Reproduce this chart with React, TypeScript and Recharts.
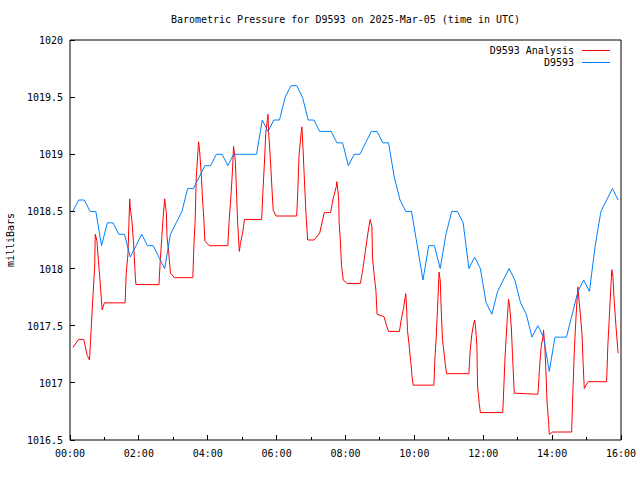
import { LineChart, Line, XAxis, YAxis, Legend } from "recharts";

// minutes after 00:00 UTC
const stationMinutes = [
  5, 15, 25, 35, 45, 55, 65, 75, 85, 95,
  105, 115, 125, 135, 145, 155, 165, 175, 185, 195,
  205, 215, 225, 235, 245, 255, 265, 275, 285, 295,
  305, 315, 325, 335, 345, 355, 365, 375, 385, 395,
  405, 415, 425, 435, 445, 455, 465, 475, 485, 495,
  505, 515, 525, 535, 545, 555, 565, 575, 585, 595,
  605, 615, 625, 635, 645, 655, 665, 675, 685, 695,
  705, 715, 725, 735, 745, 755, 765, 775, 785, 795,
  805, 815, 825, 835, 845, 855, 865, 875, 885, 895,
  905, 915, 925, 935, 945, 955,
];

const stationPressure = [
  1018.5, 1018.6, 1018.6, 1018.5, 1018.5, 1018.2, 1018.4, 1018.4, 1018.3, 1018.3,
  1018.1, 1018.2, 1018.3, 1018.2, 1018.2, 1018.1, 1018.0, 1018.3, 1018.4, 1018.5,
  1018.7, 1018.7, 1018.8, 1018.9, 1018.9, 1019.0, 1019.0, 1018.9, 1019.0, 1019.0,
  1019.0, 1019.0, 1019.0, 1019.3, 1019.2, 1019.3, 1019.3, 1019.5, 1019.6, 1019.6,
  1019.5, 1019.3, 1019.3, 1019.2, 1019.2, 1019.2, 1019.1, 1019.1, 1018.9, 1019.0,
  1019.0, 1019.1, 1019.2, 1019.2, 1019.1, 1019.1, 1018.8, 1018.6, 1018.5, 1018.5,
  1018.2, 1017.9, 1018.2, 1018.2, 1018.0, 1018.3, 1018.5, 1018.5, 1018.4, 1018.0,
  1018.1, 1018.0, 1017.7, 1017.6, 1017.8, 1017.9, 1018.0, 1017.9, 1017.7, 1017.6,
  1017.4, 1017.5, 1017.4, 1017.1, 1017.4, 1017.4, 1017.4, 1017.6, 1017.8, 1017.9,
  1017.8, 1018.2, 1018.5, 1018.6, 1018.7, 1018.6,
];

const analysisMinutes = [
  5, 15, 24, 30, 34, 39, 43, 44, 47, 52, 56, 60, 96, 98, 101, 104, 105, 108, 111, 114,
  115, 155, 157, 160, 162, 165, 168, 169, 172, 175, 182, 214, 216, 218, 220, 224, 226, 229, 231, 233,
  235, 243, 275, 277, 280, 283, 285, 288, 290, 292, 295, 297, 301, 304, 334, 336, 339, 341, 345, 346,
  349, 352, 354, 359, 395, 397, 399, 402, 404, 406, 408, 411, 414, 425, 435, 443, 454, 458, 464, 465,
  468, 469, 471, 473, 476, 483, 506, 510, 514, 519, 523, 526, 527, 530, 533, 535, 547, 551, 555, 574,
  577, 581, 584, 585, 586, 588, 591, 594, 596, 598, 634, 636, 638, 641, 643, 645, 647, 649, 654, 656,
  695, 697, 700, 703, 705, 707, 709, 710, 713, 715, 754, 756, 758, 761, 764, 766, 769, 771, 774, 815,
  816, 818, 821, 824, 825, 827, 830, 831, 834, 835, 841, 874, 876, 879, 882, 885, 886, 889, 892, 894,
  896, 899, 903, 935, 937, 940, 943, 944, 946, 948, 951, 954, 955,
];

const analysisPressure = [
  1017.31, 1017.38, 1017.38, 1017.24, 1017.2, 1017.67, 1018.02, 1018.3, 1018.24, 1017.91,
  1017.64, 1017.7, 1017.7, 1017.96, 1018.13, 1018.61, 1018.53, 1018.41, 1018.2, 1017.91,
  1017.86, 1017.86, 1018.05, 1018.28, 1018.43, 1018.61, 1018.48, 1018.28, 1018.14, 1017.96,
  1017.92, 1017.92, 1018.22, 1018.41, 1018.8, 1019.11, 1019.02, 1018.8, 1018.6, 1018.45,
  1018.24, 1018.2, 1018.2, 1018.4, 1018.6, 1018.85, 1019.07, 1018.95, 1018.69, 1018.41,
  1018.15, 1018.22, 1018.32, 1018.43, 1018.43, 1018.66, 1018.95, 1019.18, 1019.35, 1019.2,
  1018.97, 1018.69, 1018.51, 1018.46, 1018.46, 1018.69, 1018.99, 1019.15, 1019.24, 1019.05,
  1018.82, 1018.5, 1018.25, 1018.25, 1018.31, 1018.49, 1018.49, 1018.6, 1018.72, 1018.76,
  1018.62, 1018.4, 1018.25, 1018.03, 1017.9, 1017.87, 1017.87, 1017.99, 1018.13, 1018.31,
  1018.43, 1018.37, 1018.1, 1017.94, 1017.81, 1017.6, 1017.58, 1017.51, 1017.45, 1017.45,
  1017.55, 1017.65, 1017.75, 1017.78, 1017.71, 1017.46, 1017.32, 1017.17, 1017.05, 1016.98,
  1016.98, 1017.23, 1017.39, 1017.73, 1017.97, 1017.9, 1017.61, 1017.38, 1017.16, 1017.08,
  1017.08, 1017.27, 1017.42, 1017.51, 1017.55, 1017.46, 1017.32, 1016.98, 1016.82, 1016.74,
  1016.74, 1016.98, 1017.23, 1017.49, 1017.73, 1017.67, 1017.48, 1017.24, 1016.91, 1016.9,
  1016.95, 1017.13, 1017.32, 1017.4, 1017.46, 1017.35, 1017.01, 1016.84, 1016.65, 1016.55,
  1016.57, 1016.57, 1016.9, 1017.32, 1017.61, 1017.84, 1017.77, 1017.61, 1017.43, 1017.17,
  1016.95, 1016.98, 1017.01, 1017.01, 1017.32, 1017.61, 1017.9, 1017.99, 1017.93, 1017.73,
  1017.51, 1017.32, 1017.26,
];

const hourTicks = [0, 60, 120, 180, 240, 300, 360, 420, 480, 540, 600, 660, 720, 780, 840, 900, 960];
const hourLabels = ["00:00", "02:00", "04:00", "06:00", "08:00", "10:00", "12:00", "14:00", "16:00"];
const pressureTicks = [1016.5, 1017, 1017.5, 1018, 1018.5, 1019, 1019.5, 1020];
const legendOrder = ["D9593 Analysis", "D9593"];

const stationData = stationMinutes.map((t, i) => ({ t, p: stationPressure[i] }));
const analysisData = analysisMinutes.map((t, i) => ({ t, p: analysisPressure[i] }));

const FONT = "'DejaVu Sans Mono', monospace";

function BottomTick({ x, y, payload }: any) {
  const major = payload.value % 120 === 0;
  return (
    <g>
      <line x1={x} y1={y} x2={x} y2={y - (major ? 5 : 3)} stroke="#000" shapeRendering="crispEdges" />
      {major && (
        <text x={x} y={y + 17} textAnchor="middle" fill="#000" fontFamily={FONT} fontSize={10}>
          {hourLabels[payload.value / 120]}
        </text>
      )}
    </g>
  );
}

function TopTick({ x, y, payload }: any) {
  const major = payload.value % 120 === 0;
  return <line x1={x} y1={y} x2={x} y2={y + (major ? 5 : 3)} stroke="#000" shapeRendering="crispEdges" />;
}

function LeftTick({ x, y, payload }: any) {
  return (
    <g>
      <line x1={x} y1={y} x2={x + 5} y2={y} stroke="#000" shapeRendering="crispEdges" />
      <text x={x - 7} y={y + 4} textAnchor="end" fill="#000" fontFamily={FONT} fontSize={10}>
        {String(payload.value)}
      </text>
    </g>
  );
}

function RightTick({ x, y }: any) {
  return <line x1={x} y1={y} x2={x - 5} y2={y} stroke="#000" shapeRendering="crispEdges" />;
}

function LegendBox({ payload }: any) {
  const items = legendOrder
    .map((name) => (payload || []).find((p: any) => p.value === name))
    .filter(Boolean);
  return (
    <div style={{ width: 160, fontFamily: FONT, fontSize: 10, color: "#000" }}>
      {items.map((item: any) => (
        <div
          key={item.value}
          style={{ display: "flex", justifyContent: "flex-end", alignItems: "center", height: 12 }}
        >
          <span>{item.value}</span>
          <span style={{ display: "inline-block", width: 28, height: 1, marginLeft: 8, background: item.color }} />
        </div>
      ))}
    </div>
  );
}

export default function App() {
  return (
    <div style={{ position: "absolute", left: 0, top: 0, width: 640, height: 480, background: "#fff" }}>
      <LineChart
        width={640}
        height={480}
        margin={{ top: 39, right: 18, bottom: 0, left: 0 }}
        style={{ fontFamily: FONT, fontSize: 10 }}
      >
        <XAxis
          dataKey="t"
          type="number"
          domain={[0, 960]}
          ticks={hourTicks}
          interval={0}
          height={40}
          tickSize={0}
          tickMargin={0}
          tickLine={false}
          axisLine={{ stroke: "#000" }}
          tick={<BottomTick />}
        />
        <XAxis
          xAxisId="top"
          orientation="top"
          type="number"
          domain={[0, 960]}
          ticks={hourTicks}
          interval={0}
          height={1}
          tickSize={0}
          tickMargin={0}
          tickLine={false}
          axisLine={{ stroke: "#000" }}
          tick={<TopTick />}
          label={() => (
            <text x={345.5} y={23} textAnchor="middle" fill="#000" fontFamily={FONT} fontSize={10}>
              Barometric Pressure for D9593 on 2025-Mar-05 (time in UTC)
            </text>
          )}
        />
        <YAxis
          type="number"
          domain={[1016.5, 1020]}
          ticks={pressureTicks}
          interval={0}
          width={70}
          tickSize={0}
          tickMargin={0}
          tickLine={false}
          axisLine={{ stroke: "#000" }}
          tick={<LeftTick />}
          allowDataOverflow
          label={() => (
            <text
              x={14}
              y={240}
              transform="rotate(-90 14 240)"
              textAnchor="middle"
              fill="#000"
              fontFamily={FONT}
              fontSize={10}
            >
              milliBars
            </text>
          )}
        />
        <YAxis
          yAxisId="right"
          orientation="right"
          type="number"
          domain={[1016.5, 1020]}
          ticks={pressureTicks}
          interval={0}
          width={1}
          tickSize={0}
          tickMargin={0}
          tickLine={false}
          axisLine={{ stroke: "#000" }}
          tick={<RightTick />}
        />
        <Legend
          layout="vertical"
          verticalAlign="middle"
          align="center"
          wrapperStyle={{ left: 450, top: 44, width: 160 }}
          content={<LegendBox />}
        />
        <Line
          data={analysisData}
          dataKey="p"
          name="D9593 Analysis"
          type="linear"
          stroke="#ff0000"
          strokeWidth={1}
          dot={false}
          activeDot={false}
          isAnimationActive={false}
        />
        <Line
          data={stationData}
          dataKey="p"
          name="D9593"
          type="linear"
          stroke="#0080ff"
          strokeWidth={1}
          dot={false}
          activeDot={false}
          isAnimationActive={false}
        />
      </LineChart>
    </div>
  );
}
